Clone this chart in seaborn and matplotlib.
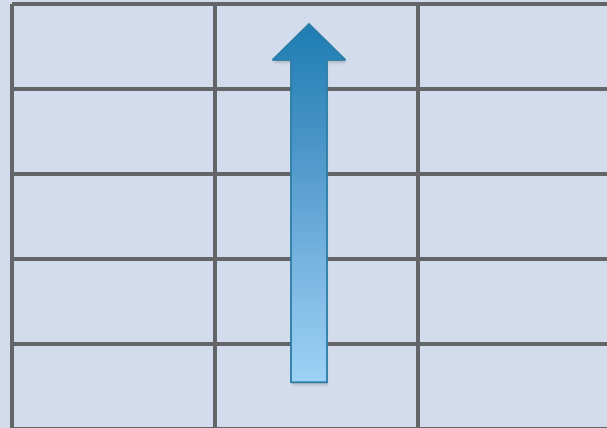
import numpy as np
import pandas as pd
import matplotlib
matplotlib.use("Agg")
import matplotlib.pyplot as plt
import seaborn as sns
from matplotlib.path import Path
from matplotlib.patches import PathPatch
from matplotlib.colors import LinearSegmentedColormap, ListedColormap

# ---- data ----
row_labels = ["r1", "r2", "r3", "r4", "r5"]
col_labels = ["c1", "c2", "c3"]
cell_values = [[0, 0, 0], [0, 0, 0], [0, 0, 0], [0, 0, 0], [0, 0, 0]]
arrow_x = [1.463]          # column position of the arrow (data units)
arrow_tail = [4.45]        # row position of the tail
arrow_tip = [0.235]        # row position of the tip

df = pd.DataFrame(cell_values, index=row_labels, columns=col_labels)

W, H = 607, 428
fig = plt.figure(figsize=(W / 100, H / 100), dpi=100)
fig.patch.set_facecolor("#d3dcec")
ax = fig.add_axes([12 / W, (H - 429) / H, 609 / W, 425 / H])

sns.heatmap(df, ax=ax, cmap=ListedColormap(["#d3dcec"]), cbar=False,
            linewidths=1.6, linecolor="#646568", xticklabels=False,
            yticklabels=False, clip_on=False)
ax.set_xlim(0, 3)
ax.set_ylim(5, 0)
ax.axis("off")

# arrow geometry in data units
cx = arrow_x[0]
tail = arrow_tail[0]
tip = arrow_tip[0]
shaft_hw = 18 / 203
head_hw = 36.5 / 203
head_base = tip + 36 / 85
verts = [(cx - shaft_hw, tail), (cx - shaft_hw, head_base), (cx - head_hw, head_base),
         (cx, tip), (cx + head_hw, head_base), (cx + shaft_hw, head_base),
         (cx + shaft_hw, tail), (cx - shaft_hw, tail)]
codes = [Path.MOVETO] + [Path.LINETO] * 6 + [Path.CLOSEPOLY]
path = Path(verts, codes)

# shadow
for i, a in enumerate([0.12, 0.09, 0.06]):
    d = (i + 1) * 1.5
    sv = [(x + d / 203 * 0.3, y + d / 85) for x, y in verts]
    ax.add_patch(PathPatch(Path(sv, codes), facecolor="#404040", edgecolor="none",
                           alpha=a, zorder=3))

# gradient fill
grad_cmap = LinearSegmentedColormap.from_list(
    "arr", ["#1e7db3", "#4a95c8", "#78b4e0", "#9ed2f6"])
grad = np.linspace(0, 1, 256).reshape(-1, 1)
im = ax.imshow(grad, cmap=grad_cmap, aspect="auto",
               extent=[cx - head_hw, cx + head_hw, tail, tip], zorder=4,
               interpolation="bilinear")
patch = PathPatch(path, facecolor="none", edgecolor="none")
ax.add_patch(patch)
im.set_clip_path(patch)
ax.add_patch(PathPatch(path, facecolor="none", edgecolor="#2a7ea6", lw=1.3, zorder=5))
ax.set_xlim(0, 3)
ax.set_ylim(5, 0)

fig.savefig("out.png", dpi=100, facecolor=fig.get_facecolor())
